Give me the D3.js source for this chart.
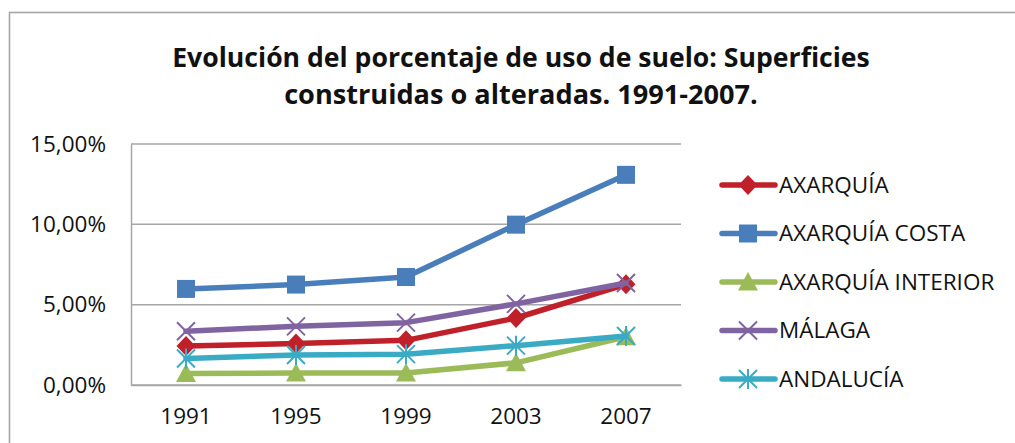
<!DOCTYPE html>
<html>
<head>
<meta charset="utf-8">
<script src="https://cdn.jsdelivr.net/npm/d3@7"></script>
<style>
  body { margin: 0; background: #fff; }
  svg { display: block; font-family: "Open Sans", sans-serif; }
</style>
</head>
<body>
<div id="wrapper"></div>
<script>
// data (values in %)
const years = ["1991", "1995", "1999", "2003", "2007"];
const seriesNames = ["AXARQUÍA", "AXARQUÍA COSTA", "AXARQUÍA INTERIOR", "MÁLAGA", "ANDALUCÍA"];
const axarquia = [2.42, 2.58, 2.78, 4.17, 6.27];
const axarquiaCosta = [5.98, 6.25, 6.72, 9.98, 13.08];
const axarquiaInterior = [0.72, 0.75, 0.75, 1.38, 3.0];
const malaga = [3.35, 3.65, 3.88, 5.05, 6.35];
const andalucia = [1.65, 1.87, 1.92, 2.45, 3.05];
const yTicks = [0, 5, 10, 15];
const titleLines = ["Evolución del porcentaje de uso de suelo: Superficies", "construidas o alteradas. 1991-2007."];

const seriesValues = [axarquia, axarquiaCosta, axarquiaInterior, malaga, andalucia];
const colors = ["#c0202a", "#4a7ebb", "#9bbb59", "#8064a2", "#3aabc4"];
const symbols = ["diamond", "square", "triangle", "x", "asterisk"];

function drawChart() {
  const width = 1015;
  const height = 443;
  const plot = { left: 131, right: 681, top: 144, bottom: 385 };
  const labelSize = "22.5px";

  const svg = d3.select("#wrapper")
    .append("svg")
    .attr("width", width)
    .attr("height", height);

  // outer chart border
  svg.append("rect")
    .attr("x", 9.5)
    .attr("y", 12.5)
    .attr("width", width + 20)
    .attr("height", height + 20)
    .attr("fill", "none")
    .attr("stroke", "#a5a5a5")
    .attr("stroke-width", 1.6);

  // title, fitted to the widths of the reference lines
  const titleWidths = [698, 474];
  const titleBase = [67, 104];
  titleLines.forEach((line, i) => {
    const t = svg.append("text")
      .attr("x", 521)
      .attr("y", titleBase[i])
      .attr("text-anchor", "middle")
      .style("font-weight", "bold")
      .style("font-size", "100px")
      .attr("fill", "#111")
      .text(line);
    const w = t.node().getComputedTextLength();
    t.style("font-size", (100 * titleWidths[i] / w) + "px");
  });

  // scales
  const xScale = d3.scaleBand()
    .domain(years)
    .range([plot.left, plot.right]);
  const xCenter = d => xScale(d) + xScale.bandwidth() / 2;

  const yScale = d3.scaleLinear()
    .domain([0, 15])
    .range([plot.bottom, plot.top]);

  // gridlines
  svg.append("g")
    .selectAll("line")
    .data(yTicks)
    .join("line")
    .attr("x1", plot.left)
    .attr("x2", plot.right)
    .attr("y1", d => yScale(d))
    .attr("y2", d => yScale(d))
    .attr("stroke", "#a6a6a6")
    .attr("stroke-width", 1.5);

  // y axis
  const yAxis = svg.append("g")
    .attr("transform", `translate(${plot.left},0)`)
    .call(d3.axisLeft(yScale)
      .tickValues(yTicks)
      .tickSize(0)
      .tickPadding(25)
      .tickFormat(d => d3.format(".2f")(d).replace(".", ",") + "%"));
  yAxis.select(".domain").attr("stroke", "#a6a6a6").attr("stroke-width", 1.5);
  yAxis.selectAll("text")
    .attr("fill", "#111")
    .style("font-size", labelSize)
    .style("font-family", "Open Sans, sans-serif");

  // x axis
  const xAxis = svg.append("g")
    .attr("transform", `translate(0,${plot.bottom})`)
    .call(d3.axisBottom(xScale).tickSize(0).tickPadding(23));
  xAxis.select(".domain").attr("stroke", "#a6a6a6").attr("stroke-width", 1.5);
  xAxis.selectAll("text")
    .attr("fill", "#111")
    .style("font-size", labelSize)
    .style("font-family", "Open Sans, sans-serif");

  // marker drawing
  function drawMarker(g, type, color, cx, cy) {
    const s = 9;
    if (type === "diamond") {
      g.append("path")
        .attr("d", `M${cx},${cy - 10}L${cx + 9.5},${cy}L${cx},${cy + 10}L${cx - 9.5},${cy}Z`)
        .attr("fill", color);
    } else if (type === "square") {
      g.append("rect")
        .attr("x", cx - s).attr("y", cy - s)
        .attr("width", 2 * s).attr("height", 2 * s)
        .attr("fill", color);
    } else if (type === "triangle") {
      g.append("path")
        .attr("d", `M${cx},${cy - 10}L${cx + 10},${cy + 8.5}L${cx - 10},${cy + 8.5}Z`)
        .attr("fill", color);
    } else if (type === "x") {
      g.append("path")
        .attr("d", `M${cx - s},${cy - s}L${cx + s},${cy + s}M${cx - s},${cy + s}L${cx + s},${cy - s}`)
        .attr("stroke", color).attr("stroke-width", 2).attr("fill", "none");
    } else if (type === "asterisk") {
      g.append("path")
        .attr("d", `M${cx - s},${cy - s}L${cx + s},${cy + s}M${cx - s},${cy + s}L${cx + s},${cy - s}M${cx},${cy - s - 1}L${cx},${cy + s + 1}`)
        .attr("stroke", color).attr("stroke-width", 2).attr("fill", "none");
    }
  }

  // lines and markers
  const lineGenerator = d3.line()
    .x((d, i) => xCenter(years[i]))
    .y(d => yScale(d));

  const seriesGroup = svg.append("g");
  seriesValues.forEach((vals, k) => {
    const g = seriesGroup.append("g");
    g.append("path")
      .datum(vals)
      .attr("d", lineGenerator)
      .attr("fill", "none")
      .attr("stroke", colors[k])
      .attr("stroke-width", 5.5)
      .attr("stroke-linejoin", "round")
      .attr("stroke-linecap", "round");
    vals.forEach((v, i) => drawMarker(g, symbols[k], colors[k], xCenter(years[i]), yScale(v)));
  });

  // legend
  const legendY = d3.scalePoint()
    .domain(seriesNames)
    .range([185, 379]);
  const legend = svg.append("g");
  seriesNames.forEach((name, k) => {
    const y = legendY(name);
    legend.append("line")
      .attr("x1", 722).attr("x2", 775)
      .attr("y1", y).attr("y2", y)
      .attr("stroke", colors[k])
      .attr("stroke-width", 5.5)
      .attr("stroke-linecap", "round");
    drawMarker(legend, symbols[k], colors[k], 748, y);
    legend.append("text")
      .attr("x", 779)
      .attr("y", y)
      .attr("dy", "0.35em")
      .attr("fill", "#111")
      .style("font-size", labelSize)
      .text(name);
  });
}
drawChart();
</script>
</body>
</html>
